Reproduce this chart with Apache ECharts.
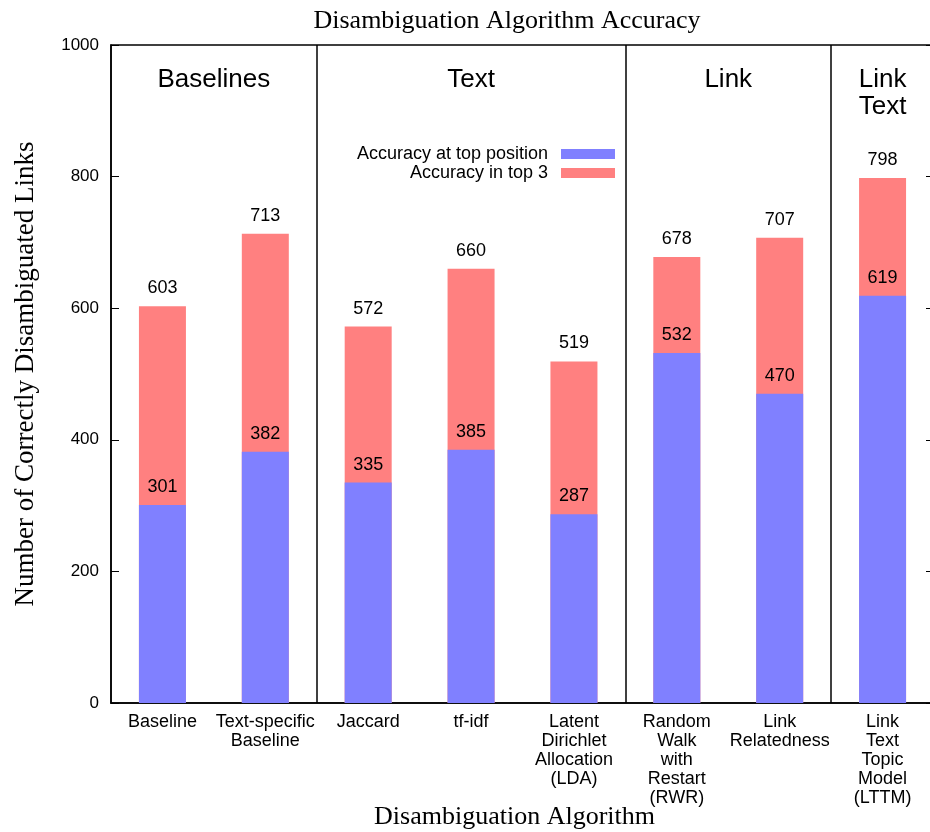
<!DOCTYPE html>
<html>
<head>
<meta charset="utf-8">
<script src="https://cdn.jsdelivr.net/npm/echarts@6/dist/echarts.min.js"></script>
<style>
  html, body { margin: 0; padding: 0; background: #ffffff; }
  #chart { width: 930px; height: 832px; }
</style>
</head>
<body>
<div id="chart"></div>
<script>
// Algorithms on the category axis
const categories = [
  'Baseline',
  'Text-specific\nBaseline',
  'Jaccard',
  'tf-idf',
  'Latent\nDirichlet\nAllocation\n(LDA)',
  'Random\nWalk\nwith\nRestart\n(RWR)',
  'Link\nRelatedness',
  'Link\nText\nTopic\nModel\n(LTTM)'
];

// Correctly disambiguated links per algorithm
const inTop3 = [603, 713, 572, 660, 519, 678, 707, 798];
const atTopPosition = [301, 382, 335, 385, 287, 532, 470, 619];

// Y axis range and step
const yMin = 0;
const yMax = 1000;
const yStep = 200;

// Algorithm families and the category boundaries that enclose them
const groupNames = ['Baselines', 'Text', 'Link', 'Link\nText'];
const groupBounds = [0, 2, 5, 7, 8];

const SANS = 'Liberation Sans';
const SERIF = 'Liberation Serif';

const groupLabels = groupNames.map((name, i) => ({
  value: [(groupBounds[i] + groupBounds[i + 1]) / 2, yMax],
  name: name
}));
const separators = groupBounds.slice(1, -1).map(b => ({ xAxis: b }));

const chart = echarts.init(document.getElementById('chart'));

chart.setOption({
  animation: false,
  backgroundColor: '#ffffff',
  title: {
    text: 'Disambiguation Algorithm Accuracy',
    left: 502,
    top: 3,
    textAlign: 'center',
    textStyle: { fontFamily: SERIF, fontSize: 26, fontWeight: 'normal', color: '#000' }
  },
  legend: {
    data: ['Accuracy at top position', 'Accuracy in top 3'],
    orient: 'vertical',
    align: 'right',
    right: 310,
    top: 140,
    itemWidth: 54,
    itemHeight: 10,
    itemGap: 1,
    icon: 'rect',
    selectedMode: false,
    textStyle: {
      fontFamily: SANS, fontSize: 18, color: '#000', lineHeight: 18,
      padding: [0, 8, 0, 0]
    }
  },
  grid: {
    left: 111,
    top: 45,
    width: 823,
    bottom: 129,
    outerBoundsMode: 'none',
    containLabel: false,
    show: true,
    borderColor: '#000',
    borderWidth: 1.5,
    backgroundColor: 'transparent'
  },
  xAxis: [
    {
      type: 'category',
      data: categories,
      name: 'Disambiguation Algorithm',
      nameLocation: 'middle',
      nameGap: 101,
      nameMoveOverlap: false,
      nameTextStyle: { fontFamily: SERIF, fontSize: 26, color: '#000', padding: [0, 16, 0, 0] },
      axisLine: { lineStyle: { color: '#000', width: 1.5 } },
      axisTick: { show: false },
      axisLabel: {
        interval: 0, margin: 10,
        fontFamily: SANS, fontSize: 18, color: '#000', lineHeight: 19
      },
      splitLine: { show: false }
    },
    {
      type: 'value',
      min: 0,
      max: groupBounds[groupBounds.length - 1],
      show: false
    }
  ],
  yAxis: [
    {
      type: 'value',
      min: yMin,
      max: yMax,
      interval: yStep,
      name: 'Number of Correctly Disambiguated Links',
      nameLocation: 'middle',
      nameGap: 72,
      nameMoveOverlap: false,
      nameTextStyle: { fontFamily: SERIF, fontSize: 27, color: '#000' },
      axisLine: { show: true, lineStyle: { color: '#000', width: 1.5 } },
      axisTick: { show: true, inside: true, length: 8, lineStyle: { color: '#000', width: 1 } },
      axisLabel: {
        margin: 12, fontFamily: SANS, fontSize: 17, color: '#000',
        formatter: v => String(v)
      },
      splitLine: { show: false }
    },
    {
      type: 'value',
      position: 'right',
      min: yMin,
      max: yMax,
      interval: yStep,
      axisLine: { show: true, lineStyle: { color: '#000', width: 1.5 } },
      axisTick: { show: true, inside: true, length: 8, lineStyle: { color: '#000', width: 1 } },
      axisLabel: { show: false },
      splitLine: { show: false }
    }
  ],
  series: [
    {
      name: 'Accuracy in top 3',
      type: 'bar',
      data: inTop3,
      barWidth: 47,
      barGap: '-100%',
      itemStyle: { color: '#FF8080' },
      label: {
        show: true, position: 'top', distance: 9,
        fontFamily: SANS, fontSize: 18, color: '#000'
      },
      z: 2
    },
    {
      name: 'Accuracy at top position',
      type: 'bar',
      data: atTopPosition,
      barWidth: 47,
      barGap: '-100%',
      itemStyle: { color: '#8080FF' },
      label: {
        show: true, position: 'top', distance: 9,
        fontFamily: SANS, fontSize: 18, color: '#000'
      },
      z: 3
    },
    {
      name: 'groups',
      type: 'scatter',
      xAxisIndex: 1,
      yAxisIndex: 0,
      data: groupLabels,
      symbolSize: 0,
      silent: true,
      itemStyle: { opacity: 1 },
      label: {
        show: true,
        position: 'bottom',
        distance: 21,
        formatter: p => p.name,
        fontFamily: SANS,
        fontSize: 26,
        lineHeight: 27,
        color: '#000'
      },
      markLine: {
        silent: true,
        symbol: 'none',
        label: { show: false },
        lineStyle: { color: '#000', width: 1.5, type: 'solid' },
        data: separators
      },
      z: 4
    }
  ]
});
</script>
</body>
</html>
